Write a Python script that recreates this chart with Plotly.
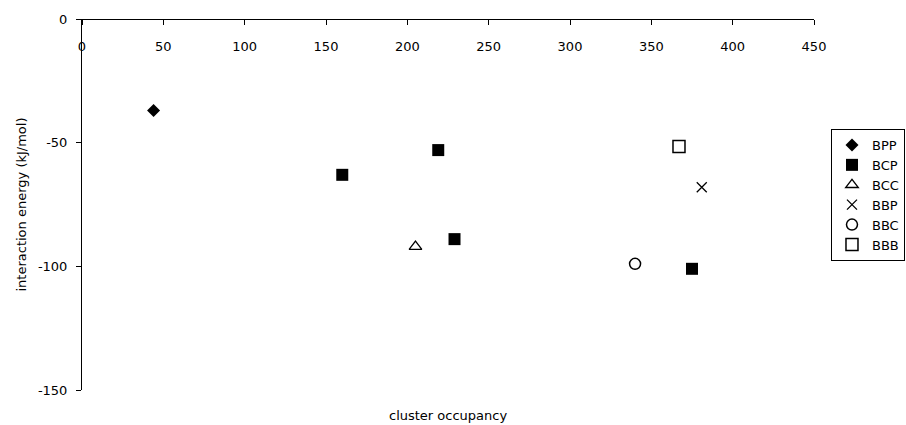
import plotly.graph_objects as go

# data
bpp_x = [44]
bpp_y = [-37]
bcp_x = [160, 219, 229, 375]
bcp_y = [-63, -53, -89, -101]
bcc_x = [205]
bcc_y = [-92]
bbp_x = [381]
bbp_y = [-68]
bbc_x = [340]
bbc_y = [-99]
bbb_x = [367]
bbb_y = [-51.5]

x_ticks = [0, 50, 100, 150, 200, 250, 300, 350, 400, 450]
y_ticks = [0, -50, -100, -150]
y_tick_text = ["0", "-50", "-100", "-150"]

FONT = "DejaVu Sans"

series = [
    ("BPP", bpp_x, bpp_y, "diamond", 10, "black", 0),
    ("BCP", bcp_x, bcp_y, "square", 12, "black", 0),
    ("BCC", bcc_x, bcc_y, "triangle-up-open", 11, "black", 1.3),
    ("BBP", bbp_x, bbp_y, "x-thin-open", 10, "black", 1.3),
    ("BBC", bbc_x, bbc_y, "circle-open", 11, "black", 1.5),
    ("BBB", bbb_x, bbb_y, "square-open", 12, "black", 1.5),
]

fig = go.Figure()
for name, xs, ys, sym, size, col, lw in series:
    fig.add_trace(go.Scatter(
        x=xs, y=ys, mode="markers", name=name,
        marker=dict(symbol=sym, size=size, color=col,
                    line=dict(color=col, width=lw)),
    ))

fig.update_layout(
    width=906, height=425,
    margin=dict(l=82, r=92, t=19, b=35, autoexpand=False),
    paper_bgcolor="white", plot_bgcolor="white",
    font=dict(family=FONT, size=13, color="black"),
    showlegend=True,
    legend=dict(
        x=1.1243, y=0.7035, xanchor="right", yanchor="top",
        bordercolor="black", borderwidth=1,
        font=dict(family=FONT, size=13, color="black"),
        itemwidth=30, tracegroupgap=0,
    ),
    xaxis=dict(
        range=[0, 450], tickvals=x_ticks, ticks="outside", ticklen=5,
        tickcolor="black", showline=True, linecolor="black", linewidth=1,
        showgrid=False, zeroline=False, anchor="free", position=1,
        side="bottom", ticklabelstandoff=10,
        tickfont=dict(family=FONT, size=13, color="black"),
    ),
    yaxis=dict(
        range=[-150, 0], tickvals=y_ticks, ticktext=y_tick_text,
        ticks="outside", ticklen=5, tickcolor="black",
        showline=True, linecolor="black", linewidth=1,
        showgrid=False, zeroline=False, ticklabelstandoff=6,
        tickfont=dict(family=FONT, size=13, color="black"),
        title=dict(text="interaction energy (kJ/mol)", standoff=8,
                   font=dict(family=FONT, size=13, color="black")),
    ),
    annotations=[dict(
        text="cluster occupancy", xref="paper", yref="paper",
        x=0.5, y=-0.070, xanchor="center", yanchor="middle",
        showarrow=False, font=dict(family=FONT, size=13, color="black"),
    )],
)

fig.write_html("out.html")
